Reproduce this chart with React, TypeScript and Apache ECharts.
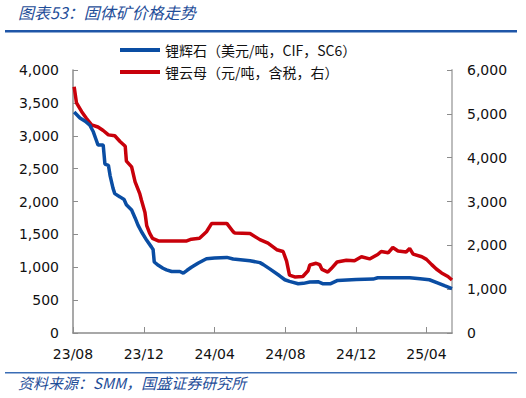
import React, { useEffect, useRef } from "react";
import * as echarts from "echarts";

const spodDates = [
  "2023-08-03", "2023-08-13", "2023-08-22", "2023-08-30", "2023-09-05", "2023-09-10", "2023-09-13", "2023-09-22",
  "2023-09-25", "2023-10-01", "2023-10-04", "2023-10-09", "2023-10-12", "2023-10-21", "2023-10-28", "2023-11-01",
  "2023-11-10", "2023-11-16", "2023-11-21", "2023-11-27", "2023-12-06", "2023-12-14", "2023-12-17", "2023-12-19",
  "2023-12-26", "2024-01-03", "2024-01-09", "2024-01-18", "2024-02-01", "2024-02-07", "2024-02-13", "2024-02-21",
  "2024-03-04", "2024-03-18", "2024-04-01", "2024-04-22", "2024-05-03", "2024-06-01", "2024-06-18", "2024-06-24",
  "2024-07-05", "2024-07-22", "2024-07-31", "2024-08-08", "2024-08-23", "2024-09-01", "2024-09-12", "2024-09-26",
  "2024-10-04", "2024-10-18", "2024-10-30", "2024-12-01", "2024-12-30", "2025-01-07", "2025-03-03", "2025-03-21",
  "2025-04-06", "2025-04-21", "2025-05-02", "2025-05-15",
];
const spodValues = [
  3360, 3270, 3220, 3160, 3060, 2935, 2860, 2860,
  2570, 2550, 2390, 2200, 2120, 2070, 2030, 1950,
  1870, 1750, 1640, 1540, 1410, 1310, 1270, 1080,
  1030, 985, 960, 935, 935, 910, 950, 1000,
  1065, 1130, 1140, 1150, 1125, 1100, 1070, 1040,
  975, 870, 810, 785, 750, 755, 775, 780,
  750, 750, 800, 815, 820, 840, 840, 825,
  810, 760, 720, 675,
];

const lepiDates = [
  "2023-08-03", "2023-08-07", "2023-08-16", "2023-08-24", "2023-09-02", "2023-09-13", "2023-09-22", "2023-10-01",
  "2023-10-12", "2023-10-21", "2023-10-30", "2023-11-01", "2023-11-10", "2023-11-16", "2023-11-24", "2023-11-27",
  "2023-12-03", "2023-12-06", "2023-12-11", "2023-12-16", "2023-12-26", "2024-02-13", "2024-02-21", "2024-03-06",
  "2024-03-18", "2024-03-27", "2024-04-22", "2024-05-03", "2024-05-06", "2024-06-01", "2024-06-18", "2024-07-02",
  "2024-07-17", "2024-07-28", "2024-08-03", "2024-08-08", "2024-08-17", "2024-08-31", "2024-09-09", "2024-09-12",
  "2024-09-23", "2024-09-29", "2024-10-03", "2024-10-13", "2024-10-19", "2024-10-29", "2024-11-14", "2024-11-28",
  "2024-12-10", "2024-12-24", "2025-01-07", "2025-01-13", "2025-01-25", "2025-02-02", "2025-02-11", "2025-02-25",
  "2025-03-03", "2025-03-09", "2025-03-24", "2025-04-01", "2025-04-10", "2025-04-18", "2025-04-27", "2025-05-08",
  "2025-05-15",
];
const lepiValues = [
  5620, 5250, 5050, 4900, 4750, 4700, 4620, 4520,
  4500, 4370, 4260, 3920, 3790, 3450, 3180, 3030,
  2750, 2450, 2280, 2160, 2100, 2100, 2140, 2160,
  2310, 2500, 2500, 2310, 2280, 2270, 2130, 2050,
  1900, 1860, 1640, 1320, 1280, 1290, 1420, 1550,
  1590, 1560, 1450, 1390, 1470, 1620, 1660, 1650,
  1740, 1690, 1790, 1860, 1830, 1950, 1870, 1850,
  1930, 1800, 1740, 1680, 1560, 1460, 1370, 1290,
  1210,
];

const tickDates = ["2023-08-01", "2023-12-01", "2024-04-01", "2024-08-01", "2024-12-01", "2025-04-01"];
const tickLabels = ["23/08", "23/12", "24/04", "24/08", "24/12", "25/04"];
const axisStart = "2023-08-01";
const axisEnd = "2025-05-15";

const seriesNames = ["锂辉石（美元/吨，CIF，SC6）", "锂云母（元/吨，含税，右）"];
const titleText = "图表53：固体矿价格走势";
const sourceText = "资料来源：SMM，国盛证券研究所";

function toUTC(s: string) {
  const [y, m, d] = s.split("-").map(Number);
  return Date.UTC(y, m - 1, d);
}
function dayOf(s: string) {
  return Math.round((toUTC(s) - toUTC(axisStart)) / 86400000);
}

export default function App() {
  const ref = useRef<HTMLDivElement>(null);
  useEffect(() => {
    if (!ref.current) return;
    const chart = echarts.init(ref.current, undefined, { renderer: "svg" });
    const tickDays = tickDates.map(dayOf);
    const labelMap: Record<number, string> = {};
    tickDays.forEach((d, i) => (labelMap[d] = tickLabels[i]));
    const numFont = "DejaVu Sans";
    const cjk = "'Noto Sans CJK SC', 'DejaVu Sans', sans-serif";
    const fmt = (v: number) => v.toLocaleString("en-US");

    chart.setOption({
      animation: false,
      backgroundColor: "#ffffff",
      grid: { left: 73, right: 74, top: 70, bottom: 65, containLabel: false },
      legend: {
        orient: "vertical",
        left: 120,
        top: 42,
        padding: 0,
        icon: "rect",
        itemWidth: 40,
        itemHeight: 4,
        itemGap: 6,
        textStyle: { fontFamily: cjk, fontSize: 14, color: "#111", lineHeight: 16 },
        data: seriesNames,
      },
      xAxis: {
        type: "value",
        min: 0,
        max: dayOf(axisEnd),
        splitLine: { show: false },
        axisLine: { lineStyle: { color: "#8c8c8c", width: 1.5 } },
        axisTick: {
          inside: true,
          length: 6,
          lineStyle: { color: "#8c8c8c" },
          customValues: tickDays,
        },
        axisLabel: {
          customValues: tickDays,
          formatter: (v: number) => labelMap[v] ?? "",
          fontFamily: numFont,
          fontSize: 14,
          color: "#111",
          margin: 14,
        },
      },
      yAxis: [
        {
          type: "value",
          min: 0,
          max: 4000,
          interval: 500,
          splitLine: { show: false },
          axisLine: { show: true, lineStyle: { color: "#8c8c8c", width: 1.5 } },
          axisTick: { show: true, inside: true, length: 5, lineStyle: { color: "#8c8c8c" } },
          axisLabel: { formatter: fmt, fontFamily: numFont, fontSize: 14, color: "#111", margin: 14 },
        },
        {
          type: "value",
          min: 0,
          max: 6000,
          interval: 1000,
          position: "right",
          splitLine: { show: false },
          axisLine: { show: true, lineStyle: { color: "#bdbdbd", width: 2 } },
          axisTick: { show: true, inside: true, length: 5, lineStyle: { color: "#8c8c8c" } },
          axisLabel: { formatter: fmt, fontFamily: numFont, fontSize: 14, color: "#111", margin: 15 },
        },
      ],
      series: [
        {
          name: seriesNames[0],
          type: "line",
          yAxisIndex: 0,
          symbol: "none",
          data: spodDates.map((d, i) => [dayOf(d), spodValues[i]]),
          lineStyle: { color: "#0a4da3", width: 3.5 },
          itemStyle: { color: "#0a4da3" },
          z: 3,
        },
        {
          name: seriesNames[1],
          type: "line",
          yAxisIndex: 1,
          symbol: "none",
          data: lepiDates.map((d, i) => [dayOf(d), lepiValues[i]]),
          lineStyle: { color: "#c8000a", width: 3.5 },
          itemStyle: { color: "#c8000a" },
          z: 2,
        },
      ],
      graphic: [
        {
          type: "text",
          left: 18,
          top: 4,
          style: {
            text: titleText,
            fontFamily: cjk,
            fontSize: 16,
            fontStyle: "italic",
            fill: "#1f4e99",
          },
        },
        {
          type: "rect",
          shape: { x: 5, y: 30, width: 512, height: 2.5 },
          style: { fill: "#1f56a8" },
        },
        {
          type: "rect",
          shape: { x: 5, y: 372, width: 512, height: 1.5 },
          style: { fill: "#3a6db5" },
        },
        {
          type: "text",
          left: 18,
          top: 375,
          style: {
            text: sourceText,
            fontFamily: cjk,
            fontSize: 15,
            fontStyle: "italic",
            fill: "#1f4e99",
          },
        },
      ],
    });
    return () => chart.dispose();
  }, []);
  return (
    <div
      ref={ref}
      style={{ position: "fixed", left: 0, top: 0, width: 526, height: 398, background: "#fff" }}
    />
  );
}
